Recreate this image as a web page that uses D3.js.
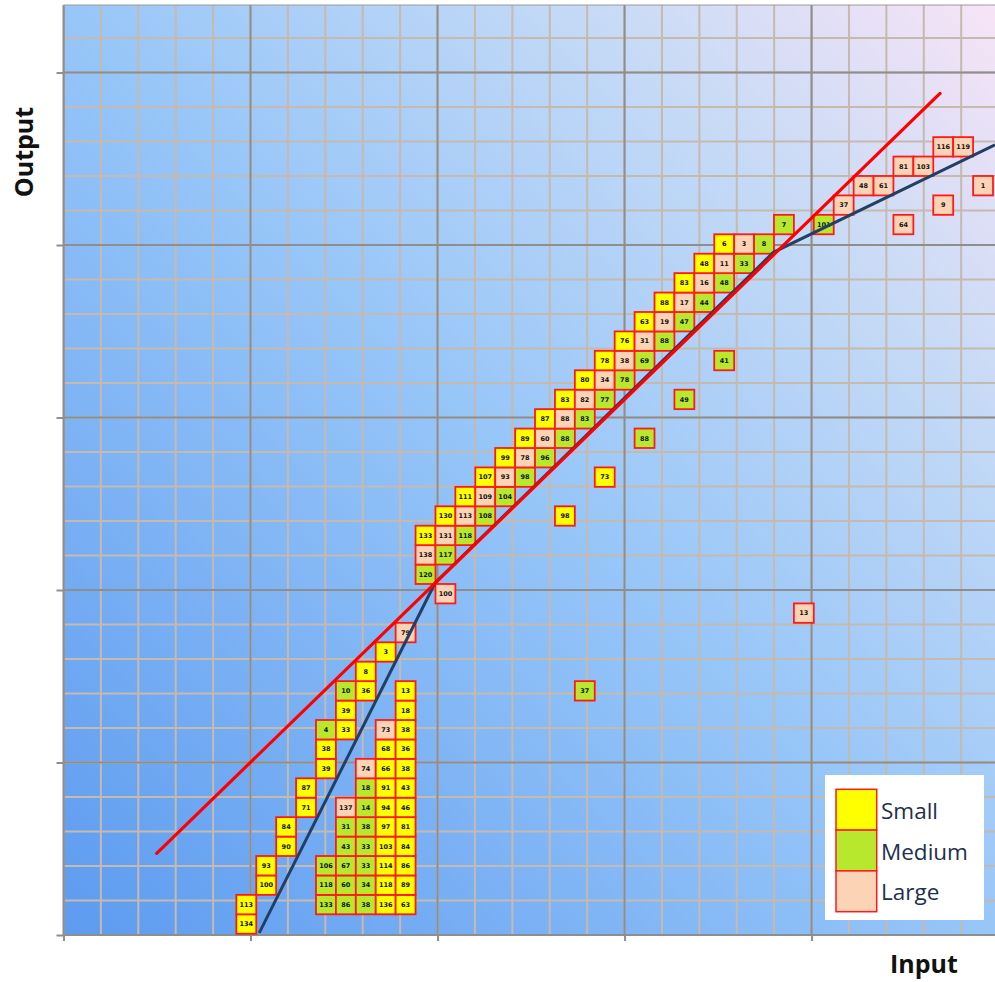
<!DOCTYPE html>
<html lang="en">
<head>
<meta charset="utf-8">
<title>Input vs Output</title>
<script src="https://d3js.org/d3.v7.min.js"></script>
<style type="text/css">
body { margin: 0; background: #fff; }
</style>
</head>
<body>
<div id="chart"></div>
<script type="text/javascript">
// Width and height
var w = 995;
var h = 982;

// size classes shown in legend
var sizeNames = ["Small", "Medium", "Large"];
var sizeFill = { S: "#ffff00", M: "#b8e82e", L: "#fdd3b6" };

// boxes: [input, output, id, size] (input / output in box steps)
var lowerBlock = [
  [0,0,"134","S"], [0,1,"113","S"],
  [1,2,"100","S"], [1,3,"93","S"],
  [2,4,"90","S"], [2,5,"84","S"],
  [3,6,"71","S"], [3,7,"87","S"],
  [4,1,"133","M"], [4,2,"118","M"], [4,3,"106","M"], [4,8,"39","S"], [4,9,"38","S"], [4,10,"4","M"],
  [5,1,"86","M"], [5,2,"60","M"], [5,3,"67","M"], [5,4,"43","M"], [5,5,"31","M"], [5,6,"137","L"],
  [5,10,"33","S"], [5,11,"39","S"], [5,12,"10","M"],
  [6,1,"38","M"], [6,2,"34","M"], [6,3,"33","M"], [6,4,"33","M"], [6,5,"38","M"], [6,6,"14","M"],
  [6,7,"18","M"], [6,8,"74","L"], [6,12,"36","S"], [6,13,"8","S"],
  [7,1,"136","S"], [7,2,"118","S"], [7,3,"114","S"], [7,4,"103","S"], [7,5,"97","S"], [7,6,"94","S"],
  [7,7,"91","S"], [7,8,"66","S"], [7,9,"68","S"], [7,10,"73","L"], [7,14,"3","S"],
  [8,1,"63","S"], [8,2,"89","S"], [8,3,"86","S"], [8,4,"84","S"], [8,5,"81","S"], [8,6,"46","S"],
  [8,7,"43","S"], [8,8,"38","S"], [8,9,"36","S"], [8,10,"38","S"], [8,11,"18","S"], [8,12,"13","S"],
  [8,15,"79","L"]
];

var staircase = [
  [10,17,"100","L"], [9,18,"120","M"],
  [9,19,"138","L"], [10,19,"117","M"],
  [9,20,"133","S"], [10,20,"131","L"], [11,20,"118","M"],
  [10,21,"130","S"], [11,21,"113","L"], [12,21,"108","M"],
  [11,22,"111","S"], [12,22,"109","L"], [13,22,"104","M"],
  [12,23,"107","S"], [13,23,"93","L"], [14,23,"98","M"],
  [13,24,"99","S"], [14,24,"78","L"], [15,24,"96","M"],
  [14,25,"89","S"], [15,25,"60","L"], [16,25,"88","M"],
  [15,26,"87","S"], [16,26,"88","L"], [17,26,"83","M"],
  [16,27,"83","S"], [17,27,"82","L"], [18,27,"77","M"],
  [17,28,"80","S"], [18,28,"34","L"], [19,28,"78","M"],
  [18,29,"78","S"], [19,29,"38","L"], [20,29,"69","M"],
  [19,30,"76","S"], [20,30,"31","L"], [21,30,"88","M"],
  [20,31,"63","S"], [21,31,"19","L"], [22,31,"47","M"],
  [21,32,"88","S"], [22,32,"17","L"], [23,32,"44","M"],
  [22,33,"83","S"], [23,33,"16","L"], [24,33,"48","M"],
  [23,34,"48","S"], [24,34,"11","L"], [25,34,"33","M"],
  [24,35,"6","S"], [25,35,"3","L"], [26,35,"8","M"],
  [27,36,"7","M"], [29,36,"101","M"],
  [30,37,"37","L"],
  [31,38,"48","L"], [32,38,"61","L"],
  [33,39,"81","L"], [34,39,"103","L"],
  [35,40,"116","L"], [36,40,"119","L"]
];

var outliers = [
  [16,21,"98","S"], [18,23,"73","S"], [20,25,"88","M"], [22,27,"49","M"],
  [24,29,"41","M"], [17,12,"37","M"], [28,16,"13","L"],
  [33,36,"64","L"], [35,37,"9","L"], [37,38,"1","L"]
];

// trend lines
var redLine = [[-4.5, 3.64], [34.84, 42.75]];
var blueLine = [[0.65, -0.46], [9.48, 17.55], [26.47, 34.57], [37.6, 40.1]];

// axis extents and grid steps (box steps)
var xDomain = [-9.18, 37.6];
var yDomain = [-0.566, 47.3];
var xMajorStep = 9.392, yMajorStep = 8.878;

// plot area
var plotL = 63.5, plotR = 995, plotT = 5, plotB = 935;

var xScale = d3.scaleLinear().domain(xDomain).range([plotL, plotR]);
var yScale = d3.scaleLinear().domain(yDomain).range([plotB, plotT]);

var svg = d3.select("#chart").append("svg")
  .attr("width", w).attr("height", h);

var defs = svg.append("defs");
var grad = defs.append("linearGradient").attr("id", "bg")
  .attr("x1", "0%").attr("y1", "100%").attr("x2", "100%").attr("y2", "0%");
grad.append("stop").attr("offset", "0%").attr("stop-color", "#5d9bf0");
grad.append("stop").attr("offset", "50%").attr("stop-color", "#97c6f8");
grad.append("stop").attr("offset", "78%").attr("stop-color", "#c6daf6");
grad.append("stop").attr("offset", "100%").attr("stop-color", "#f8e4f6");

defs.append("clipPath").attr("id", "plotclip")
  .append("rect").attr("x", plotL).attr("y", plotT)
  .attr("width", plotR - plotL).attr("height", plotB - plotT);

svg.append("rect")
  .attr("x", plotL).attr("y", plotT)
  .attr("width", plotR - plotL).attr("height", plotB - plotT)
  .attr("fill", "url(#bg)");

// grid
var xMajor = d3.range(xDomain[0], xDomain[1], xMajorStep);
var yMajor = d3.range(yDomain[0], yDomain[1], yMajorStep);
var xMinor = d3.range(xDomain[0], xDomain[1], xMajorStep / 5);
var yMinor = d3.range(yDomain[0], yDomain[1], yMajorStep / 5);

var grid = svg.append("g").attr("clip-path", "url(#plotclip)");
grid.selectAll("line.xminor").data(xMinor).enter().append("line")
  .attr("x1", d => xScale(d)).attr("x2", d => xScale(d))
  .attr("y1", plotT).attr("y2", plotB)
  .attr("stroke", "#c6b9ad").attr("stroke-width", 2);
grid.selectAll("line.yminor").data(yMinor).enter().append("line")
  .attr("y1", d => yScale(d)).attr("y2", d => yScale(d))
  .attr("x1", plotL).attr("x2", plotR)
  .attr("stroke", "#c6b9ad").attr("stroke-width", 2);
grid.selectAll("line.xmajor").data(xMajor).enter().append("line")
  .attr("x1", d => xScale(d)).attr("x2", d => xScale(d))
  .attr("y1", plotT).attr("y2", plotB)
  .attr("stroke", "#8e8e8e").attr("stroke-width", 2);
grid.selectAll("line.ymajor").data(yMajor).enter().append("line")
  .attr("y1", d => yScale(d)).attr("y2", d => yScale(d))
  .attr("x1", plotL).attr("x2", plotR)
  .attr("stroke", "#8e8e8e").attr("stroke-width", 2);

// axes (ticks only, no labels)
var xAxis = d3.axisBottom(xScale).tickValues(xMajor).tickSize(6).tickFormat("");
var yAxis = d3.axisLeft(yScale).tickValues(yMajor).tickSize(7).tickFormat("");
var gx = svg.append("g").attr("transform", "translate(0," + plotB + ")").call(xAxis);
var gy = svg.append("g").attr("transform", "translate(" + plotL + ",0)").call(yAxis);
[gx, gy].forEach(function(g) {
  g.select(".domain").remove();
  g.selectAll(".tick line").attr("stroke", "#8e8e8e").attr("stroke-width", 2);
});
svg.append("line").attr("x1", plotL).attr("x2", plotL).attr("y1", plotT).attr("y2", plotB)
  .attr("stroke", "#8e8e8e").attr("stroke-width", 2);
svg.append("line").attr("x1", plotL).attr("x2", plotR).attr("y1", plotB).attr("y2", plotB)
  .attr("stroke", "#8e8e8e").attr("stroke-width", 2);
svg.append("line").attr("x1", plotL).attr("x2", plotR).attr("y1", plotT).attr("y2", plotT)
  .attr("stroke", "#9a9a9a").attr("stroke-width", 1);

// boxes
var boxW = xScale(1) - xScale(0);
var boxH = yScale(0) - yScale(1);
var allBoxes = lowerBlock.concat(staircase, outliers);

var boxes = svg.append("g").selectAll("g.box").data(allBoxes).enter().append("g")
  .attr("transform", d => "translate(" + xScale(d[0]) + "," + yScale(d[1]) + ")");
boxes.append("rect")
  .attr("x", -boxW / 2).attr("y", -boxH / 2)
  .attr("width", boxW).attr("height", boxH)
  .attr("fill", d => sizeFill[d[3]])
  .attr("stroke", "#ff1a1a").attr("stroke-width", 1.8);
boxes.append("text")
  .attr("text-anchor", "middle").attr("dy", "0.35em")
  .attr("font-family", "DejaVu Sans").attr("font-weight", "bold")
  .attr("font-size", "6.5px").attr("fill", "#111")
  .text(d => d[2]);

// lines
var line = d3.line().x(d => xScale(d[0])).y(d => yScale(d[1]));
svg.append("path").datum(blueLine).attr("d", line)
  .attr("clip-path", "url(#plotclip)")
  .attr("fill", "none").attr("stroke", "#223f66").attr("stroke-width", 3);
svg.append("path").datum(redLine).attr("d", line)
  .attr("fill", "none").attr("stroke", "#ff0000").attr("stroke-width", 3.2)
  .attr("stroke-linecap", "round");

// legend
var legend = svg.append("g").attr("transform", "translate(825,775)");
legend.append("rect").attr("width", 159).attr("height", 145).attr("fill", "#ffffff");
var items = legend.selectAll("g").data(sizeNames).enter().append("g")
  .attr("transform", (d, i) => "translate(11," + (14.3 + i * 40.8) + ")");
items.append("rect").attr("width", 40.7).attr("height", 40.8)
  .attr("fill", (d, i) => sizeFill[["S", "M", "L"][i]])
  .attr("stroke", "#ff1a1a").attr("stroke-width", 1.5);
items.append("text").attr("x", 45).attr("y", 29.5)
  .attr("font-family", "Open Sans").attr("font-size", "22.5px")
  .attr("fill", "#1f2f4f").text(d => d);

// axis titles
svg.append("text")
  .attr("transform", "translate(33,152) rotate(-90)")
  .attr("text-anchor", "middle")
  .attr("font-family", "Open Sans").attr("font-weight", "bold")
  .attr("font-size", "25px").attr("fill", "#111").text("Output");
svg.append("text")
  .attr("x", 924).attr("y", 973)
  .attr("text-anchor", "middle")
  .attr("font-family", "Open Sans").attr("font-weight", "bold")
  .attr("font-size", "25px").attr("fill", "#111").text("Input");
</script>
</body>
</html>
